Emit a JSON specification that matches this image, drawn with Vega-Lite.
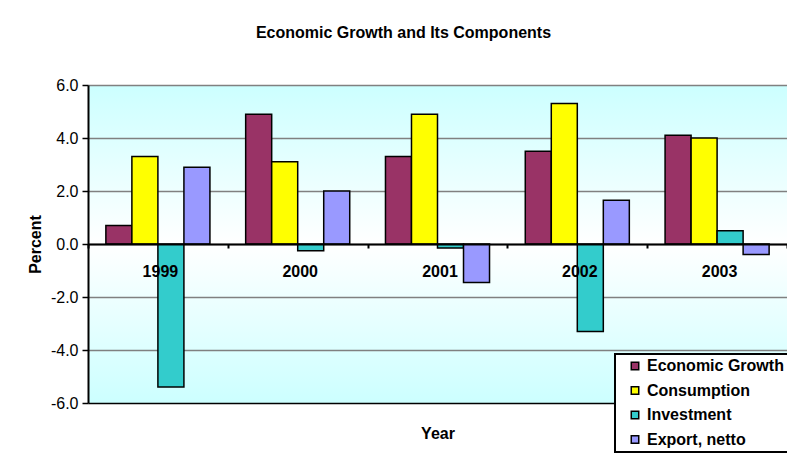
{
  "$schema": "https://vega.github.io/schema/vega-lite/v6.json",
  "width": 699,
  "height": 318,
  "autosize": {"type": "none"},
  "padding": {"left": 88, "top": 85, "right": 0, "bottom": 53},
  "background": "white",
  "title": {
    "text": "Economic Growth and Its Components",
    "font": "Liberation Sans",
    "fontSize": 16,
    "fontWeight": "bold",
    "color": "black",
    "anchor": "middle",
    "dx": -34,
    "offset": 23,
    "baseline": "alphabetic"
  },
  "data": {
    "values": [
      {"year": "1999", "series": "Economic Growth", "value": 0.7},
      {"year": "1999", "series": "Consumption", "value": 3.3},
      {"year": "1999", "series": "Investment", "value": -5.4},
      {"year": "1999", "series": "Export, netto", "value": 2.9},
      {"year": "2000", "series": "Economic Growth", "value": 4.9},
      {"year": "2000", "series": "Consumption", "value": 3.1},
      {"year": "2000", "series": "Investment", "value": -0.25},
      {"year": "2000", "series": "Export, netto", "value": 2.0},
      {"year": "2001", "series": "Economic Growth", "value": 3.3},
      {"year": "2001", "series": "Consumption", "value": 4.9},
      {"year": "2001", "series": "Investment", "value": -0.15},
      {"year": "2001", "series": "Export, netto", "value": -1.45},
      {"year": "2002", "series": "Economic Growth", "value": 3.5},
      {"year": "2002", "series": "Consumption", "value": 5.3},
      {"year": "2002", "series": "Investment", "value": -3.3},
      {"year": "2002", "series": "Export, netto", "value": 1.65},
      {"year": "2003", "series": "Economic Growth", "value": 4.1},
      {"year": "2003", "series": "Consumption", "value": 4.0},
      {"year": "2003", "series": "Investment", "value": 0.5},
      {"year": "2003", "series": "Export, netto", "value": -0.4}
    ]
  },
  "mark": {"type": "bar", "stroke": "black", "strokeWidth": 1.5},
  "encoding": {
    "x": {
      "field": "year",
      "type": "nominal",
      "scale": {"paddingInner": 0, "paddingOuter": 0},
      "axis": {
        "title": "Year",
        "orient": "bottom",
        "offset": -159,
        "zindex": 1,
        "domain": true,
        "domainColor": "black",
        "domainWidth": 2,
        "ticks": true,
        "tickBand": "extent",
        "tickColor": "black",
        "tickWidth": 2,
        "tickSize": 4,
        "labelAngle": 0,
        "labelFont": "Liberation Sans",
        "labelFontSize": 16,
        "labelFontWeight": "bold",
        "labelColor": "black",
        "labelPadding": 15,
        "labelOffset": 2,
        "titleFont": "Liberation Sans",
        "titleFontSize": 16,
        "titleFontWeight": "bold",
        "titleColor": "black",
        "titleY": 189,
        "titleBaseline": "middle",
        "grid": false
      }
    },
    "xOffset": {
      "field": "series",
      "type": "nominal",
      "sort": ["Economic Growth", "Consumption", "Investment", "Export, netto"],
      "scale": {"paddingInner": 0, "paddingOuter": 0.687}
    },
    "y": {
      "field": "value",
      "type": "quantitative",
      "scale": {"domain": [-6, 6], "nice": false, "zero": false},
      "axis": {
        "title": "Percent",
        "values": [-6, -4, -2, 0, 2, 4, 6],
        "labelExpr": "(datum.value < 0 ? '-' : '') + format(abs(datum.value), '.1f')",
        "domainColor": "black",
        "domainWidth": 2,
        "tickColor": "black",
        "tickWidth": 1.5,
        "tickSize": 6,
        "labelPadding": 4,
        "labelFont": "Liberation Sans",
        "labelFontSize": 16,
        "labelColor": "black",
        "grid": true,
        "gridColor": {"condition": {"test": "datum.value === -6", "value": "black"}, "value": "#808080"},
        "gridWidth": 1.5,
        "titleFont": "Liberation Sans",
        "titleFontSize": 16,
        "titleFontWeight": "bold",
        "titleColor": "black",
        "titleX": -53,
        "titleBaseline": "middle"
      }
    },
    "color": {
      "field": "series",
      "type": "nominal",
      "sort": ["Economic Growth", "Consumption", "Investment", "Export, netto"],
      "scale": {
        "domain": ["Economic Growth", "Consumption", "Investment", "Export, netto"],
        "range": ["#993366", "#FFFF00", "#33CCCC", "#9999FF"]
      },
      "legend": {
        "orient": "none",
        "legendX": 527,
        "legendY": 269,
        "title": null,
        "direction": "vertical",
        "fillColor": "white",
        "strokeColor": "black",
        "padding": 4,
        "symbolType": "square",
        "symbolSize": 56,
        "symbolStrokeColor": "black",
        "symbolStrokeWidth": 1.5,
        "symbolOpacity": 1,
        "symbolOffset": 8,
        "labelOffset": 4,
        "labelFont": "Liberation Sans",
        "labelFontSize": 16,
        "labelFontWeight": "bold",
        "labelColor": "black",
        "rowPadding": 8.5
      }
    }
  },
  "config": {
    "view": {
      "stroke": null,
      "fill": {
        "gradient": "linear",
        "x1": 0, "y1": 0, "x2": 0, "y2": 1,
        "stops": [
          {"offset": 0, "color": "#CCFFFF"},
          {"offset": 0.5, "color": "#FFFFFF"},
          {"offset": 1, "color": "#CCFFFF"}
        ]
      }
    },
    "legend": {"strokeWidth": 2}
  }
}
